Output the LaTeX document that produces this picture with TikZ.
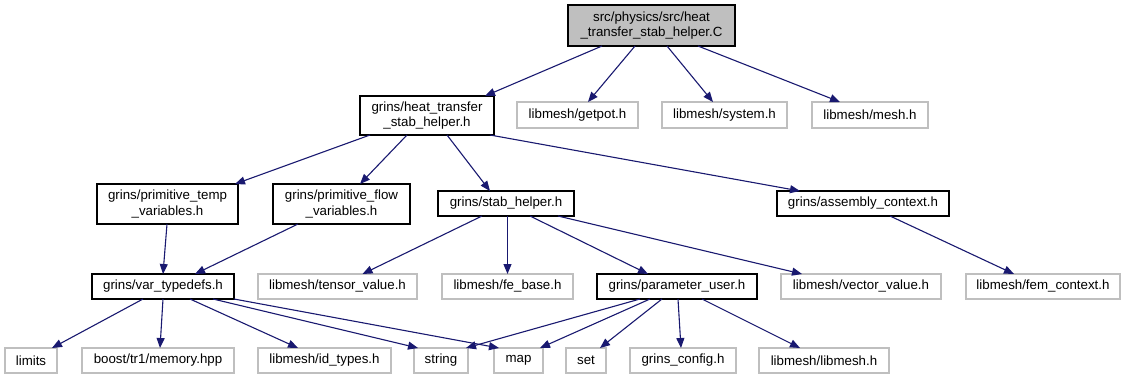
\documentclass[tikz,border=0pt]{standalone}
\usepackage{fontspec}
\setmainfont{Liberation Sans}
\usetikzlibrary{arrows.meta}
\definecolor{edgeblue}{HTML}{191970}
\definecolor{lightframe}{HTML}{BFBFBF}
\definecolor{rootfill}{HTML}{BFBFBF}
\begin{document}
\begin{tikzpicture}[x=1pt,y=-1pt,
  every node/.style={inner sep=0pt,outer sep=0pt,align=center,
    font=\fontsize{13.3}{15.5}\selectfont},
  hdr/.style={draw=black,line width=1.2pt,fill=white},
  ext/.style={draw=lightframe,line width=1.2pt,fill=white},
  rootbox/.style={draw=black,line width=1.2pt,fill=rootfill},
  dep/.style={draw=edgeblue,line width=1.1pt,
    -{Triangle[length=10pt,width=8pt]}}]
\useasboundingbox[fill=white] (0,0) rectangle (1125,380);

% top level: the source file
\node[rootbox,minimum width=167pt,minimum height=41pt] (root) at (651.5,25.5)
  {src/physics/src/heat\\\_transfer\_stab\_helper.C};

% first level includes
\node[hdr,minimum width=134pt,minimum height=39pt] (heat) at (427,115.5)
  {grins/heat\_transfer\\\_stab\_helper.h};
\node[ext,minimum width=121pt,minimum height=26pt] (getpot) at (577.5,115) {libmesh/getpot.h};
\node[ext,minimum width=125pt,minimum height=26pt] (system) at (724.5,115) {libmesh/system.h};
\node[ext,minimum width=116pt,minimum height=26pt] (mesh) at (870,115) {libmesh/mesh.h};

% second level
\node[hdr,minimum width=141pt,minimum height=40pt] (ptemp) at (167.5,204)
  {grins/primitive\_temp\\\_variables.h};
\node[hdr,minimum width=137pt,minimum height=40pt] (pflow) at (341.5,204)
  {grins/primitive\_flow\\\_variables.h};
\node[hdr,minimum width=136pt,minimum height=25pt] (stab) at (506,203.5) {grins/stab\_helper.h};
\node[hdr,minimum width=172pt,minimum height=25pt] (asm) at (863,203.5) {grins/assembly\_context.h};

% third level
\node[hdr,minimum width=142pt,minimum height=25pt] (vart) at (163,286.5) {grins/var\_typedefs.h};
\node[ext,minimum width=159pt,minimum height=25pt] (tensor) at (337.5,286.5) {libmesh/tensor\_value.h};
\node[ext,minimum width=131pt,minimum height=25pt] (febase) at (507.5,286.5) {libmesh/fe\_base.h};
\node[hdr,minimum width=160pt,minimum height=25pt] (param) at (677,286.5) {grins/parameter\_user.h};
\node[ext,minimum width=160pt,minimum height=25pt] (vector) at (861,286.5) {libmesh/vector\_value.h};
\node[ext,minimum width=154pt,minimum height=25pt] (fem) at (1043,286.5) {libmesh/fem\_context.h};

% bottom level
\node[ext,minimum width=52pt,minimum height=25pt] (limits) at (31,360.5) {limits};
\node[ext,minimum width=152pt,minimum height=25pt] (boost) at (158,360.5) {boost/tr1/memory.hpp};
\node[ext,minimum width=133pt,minimum height=25pt] (idt) at (324.5,360.5) {libmesh/id\_types.h};
\node[ext,minimum width=54pt,minimum height=25pt] (string) at (441,360.5) {string};
\node[ext,minimum width=49pt,minimum height=25pt] (map) at (518.5,360.5) {map};
\node[ext,minimum width=40pt,minimum height=25pt] (set) at (586,360.5) {set};
\node[ext,minimum width=106pt,minimum height=25pt] (gconf) at (683,360.5) {grins\_config.h};
\node[ext,minimum width=130pt,minimum height=25pt] (libm) at (824,360.5) {libmesh/libmesh.h};

% include edges
\draw[dep] ([xshift=-49.5pt]root.south) -- ([xshift=58pt]heat.north);
\draw[dep] ([xshift=-16.5pt]root.south) -- ([xshift=10.5pt]getpot.north);
\draw[dep] ([xshift=15.5pt]root.south) -- ([xshift=-11.5pt]system.north);
\draw[dep] ([xshift=46.5pt]root.south) -- ([xshift=-30pt]mesh.north);

\draw[dep] ([xshift=-57pt]heat.south) -- ([xshift=67.5pt]ptemp.north);
\draw[dep] ([xshift=-20pt]heat.south) -- ([xshift=18.5pt]pflow.north);
\draw[dep] ([xshift=20pt]heat.south) -- ([xshift=-16pt]stab.north);
\draw[dep] ([xshift=63pt]heat.south) -- ([xshift=-63pt]asm.north);

\draw[dep] ([xshift=-0.5pt]ptemp.south) -- (vart.north);
\draw[dep] ([xshift=-43.5pt]pflow.south) -- ([xshift=32pt]vart.north);

\draw[dep] ([xshift=-24pt]stab.south) -- ([xshift=25pt]tensor.north);
\draw[dep] ([xshift=1.5pt]stab.south) -- ([xshift=0pt]febase.north);
\draw[dep] ([xshift=24pt]stab.south) -- ([xshift=-29pt]param.north);
\draw[dep] ([xshift=52pt]stab.south) -- ([xshift=-59pt]vector.north);

\draw[dep] ([xshift=27pt]asm.south) -- ([xshift=-29pt]fem.north);

\draw[dep] ([xshift=-20pt]vart.south) -- ([xshift=21pt]limits.north);
\draw[dep] ([xshift=0pt]vart.south) -- ([xshift=2pt]boost.north);
\draw[dep] ([xshift=27pt]vart.south) -- ([xshift=-26.5pt]idt.north);
\draw[dep] ([xshift=50pt]vart.south) -- ([xshift=-23pt]string.north);
\draw[dep] ([xshift=71pt]vart.south) -- ([xshift=-19.5pt]map.north);

\draw[dep] ([xshift=-37pt]param.south) -- ([xshift=25pt]string.north);
\draw[dep] ([xshift=-27pt]param.south) -- ([xshift=21.5pt]map.north);
\draw[dep] ([xshift=-15pt]param.south) -- ([xshift=14pt]set.north);
\draw[dep] ([xshift=1pt]param.south) -- ([xshift=-2pt]gconf.north);
\draw[dep] ([xshift=25pt]param.south) -- ([xshift=-24pt]libm.north);
\end{tikzpicture}
\end{document}
